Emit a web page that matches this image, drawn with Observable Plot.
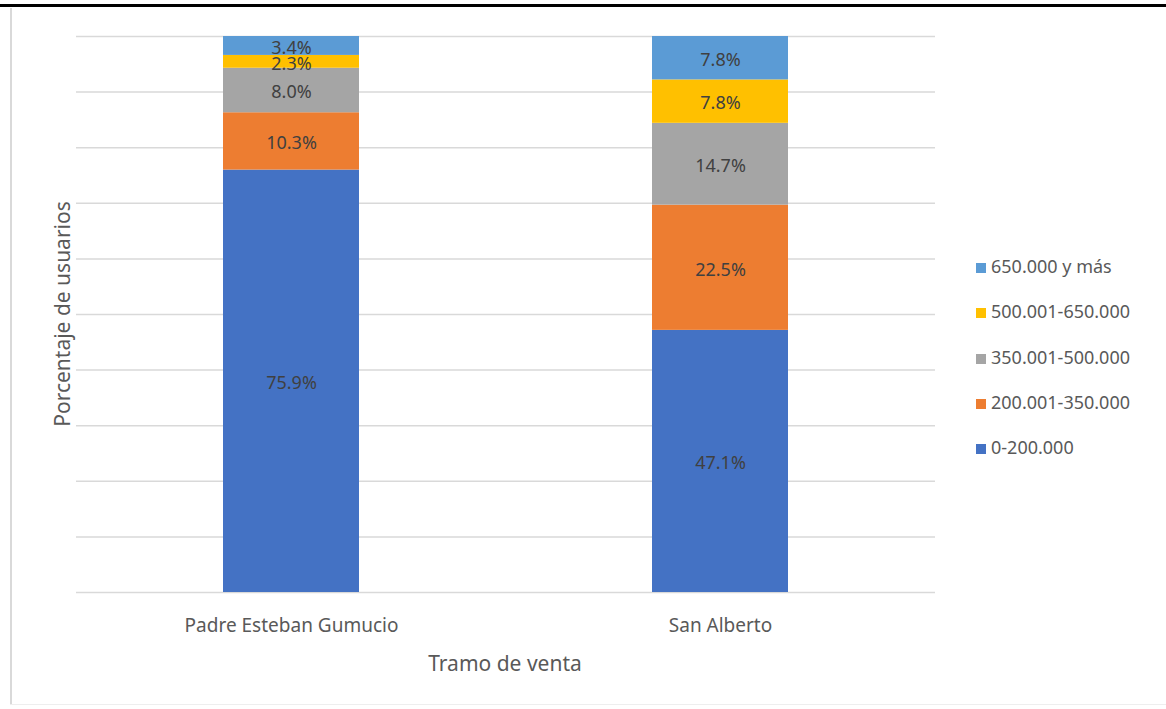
<!DOCTYPE html>
<html>
<head>
<meta charset="utf-8">
<script src="https://cdn.jsdelivr.net/npm/d3@7"></script>
<script src="https://cdn.jsdelivr.net/npm/@observablehq/plot@0.6"></script>
<style>
  html, body { margin: 0; padding: 0; background: #fff; }
  #wrap { position: relative; width: 1166px; height: 709px; overflow: hidden; font-family: "Noto Sans", sans-serif; }
  #topline { position: absolute; left: 0; top: 4px; width: 1166px; height: 3px; background: #000; }
  #leftline { position: absolute; left: 10px; top: 8px; width: 2px; height: 697px; background: #d9d9d9; }
  #bottomline { position: absolute; left: 10px; top: 704px; width: 1156px; height: 1px; background: #eeeeee; }
  #chart { position: absolute; left: 0; top: 0; }
  .ytitle { position: absolute; left: 62px; top: 314px; transform: translate(-50%, -50%) rotate(-90deg); font-size: 21px; color: #595959; white-space: nowrap; }
  .xtitle { position: absolute; left: 505px; top: 663px; transform: translate(-50%, -50%); font-size: 21px; color: #595959; white-space: nowrap; }
  #legend { position: absolute; left: 976px; top: 254px; }
  .li { height: 45.3px; display: flex; align-items: flex-start; font-size: 18px; color: #595959; white-space: nowrap; }
  .sw { width: 10px; height: 10px; margin-right: 5px; margin-top: 9px; }
</style>
</head>
<body>
<div id="wrap">
  <div id="topline"></div>
  <div id="leftline"></div>
  <div id="bottomline"></div>
  <div id="chart"></div>
  <div class="ytitle">Porcentaje de usuarios</div>
  <div class="xtitle">Tramo de venta</div>
  <div id="legend"></div>
</div>
<script>
const categories = ["Padre Esteban Gumucio", "San Alberto"];
const series = ["0-200.000", "200.001-350.000", "350.001-500.000", "500.001-650.000", "650.000 y más"];
const colors = ["#4472C4", "#ED7D31", "#A5A5A5", "#FFC000", "#5B9BD5"];
const valuesPadre = [75.9, 10.3, 8.0, 2.3, 3.4];
const valuesSanAlberto = [47.1, 22.5, 14.7, 7.8, 7.8];
const gridTicks = [0, 0.1, 0.2, 0.3, 0.4, 0.5, 0.6, 0.7, 0.8, 0.9, 1.0];

const rows = [];
series.forEach((s, i) => {
  rows.push({cat: categories[0], serie: s, value: valuesPadre[i]});
  rows.push({cat: categories[1], serie: s, value: valuesSanAlberto[i]});
});

const chart = Plot.plot({
  width: 1166,
  height: 709,
  marginLeft: 76,
  marginRight: 231,
  marginTop: 36,
  marginBottom: 117,
  style: {fontFamily: "Noto Sans, sans-serif", background: "transparent"},
  x: {domain: categories, paddingInner: 0.683, paddingOuter: 0.342, label: null},
  y: {domain: [0, 1], axis: null},
  color: {domain: series, range: colors},
  marks: [
    Plot.gridY(gridTicks, {stroke: "#d9d9d9", strokeOpacity: 1, strokeWidth: 1.5}),
    Plot.barY(rows, Plot.stackY({x: "cat", y: "value", z: "serie", fill: "serie", offset: "normalize", order: series})),
    Plot.text(rows, Plot.stackY({x: "cat", y: "value", z: "serie", offset: "normalize", order: series,
      text: d => d.value.toFixed(1) + "%", fill: "#404040", fontSize: 18, dy: 2})),
    Plot.axisX({tickSize: 0, tickPadding: 26, fontSize: 19, fill: "#595959", label: null})
  ]
});
document.getElementById("chart").appendChild(chart);

const legend = document.getElementById("legend");
series.slice().reverse().forEach((s) => {
  const i = series.indexOf(s);
  const row = document.createElement("div");
  row.className = "li";
  const sw = document.createElement("div");
  sw.className = "sw";
  sw.style.background = colors[i];
  const t = document.createElement("span");
  t.textContent = s;
  row.appendChild(sw);
  row.appendChild(t);
  legend.appendChild(row);
});
</script>
</body>
</html>
